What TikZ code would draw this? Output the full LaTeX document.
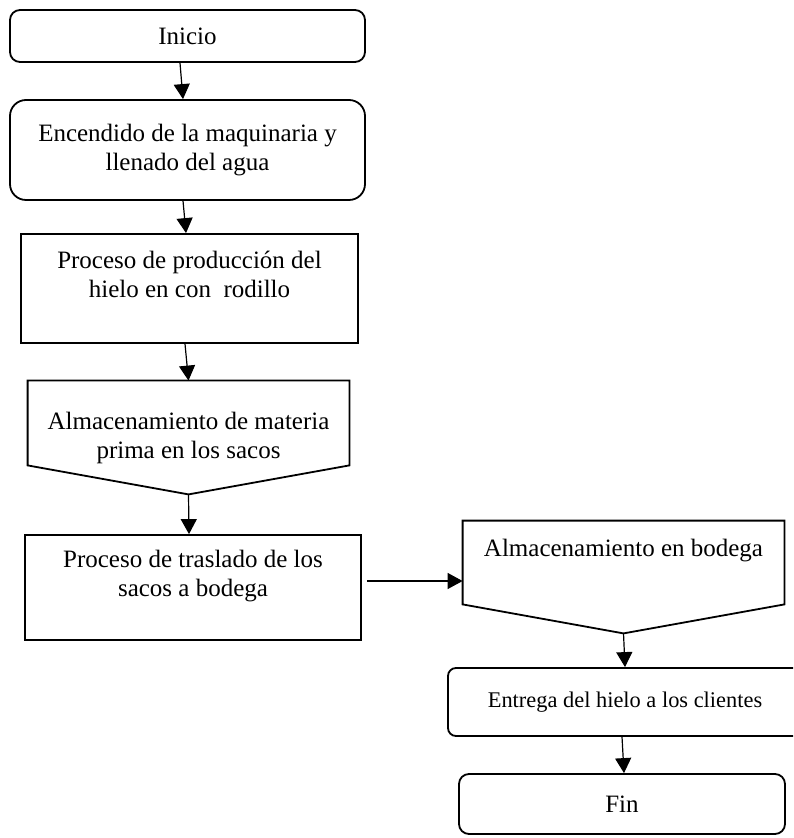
\documentclass[tikz,border=0pt]{standalone}
\usepackage{fontspec}
\setmainfont{Liberation Serif}
\usetikzlibrary{arrows.meta}

\begin{document}
\begin{tikzpicture}[x=0.5pt,y=-0.5pt,
    txt/.style={font=\fontsize{12.5}{14.5}\selectfont,align=center,inner sep=0pt},
    endbox/.style={txt,draw,line width=0.9pt,rounded corners=5pt},
    procbox/.style={txt,draw,line width=0.9pt},
    storebox/.style={txt},
    storeline/.style={line width=0.9pt},
    flow/.style={-{Triangle[length=7.5pt,width=8pt]},line width=0.6pt}]
                \useasboundingbox (0,0) rectangle (793,838);
                \clip (0,0) rectangle (793,838);
                \node[endbox,minimum width=177.5pt,minimum height=26pt] (ini) at (187.5,36) {Inicio};
                \node[endbox,rounded corners=8pt,minimum width=177.5pt,minimum height=50pt] (enc) at (187.5,150) {Encendido de la maquinaria y\\llenado del agua};
                \node[procbox,minimum width=168.5pt,minimum height=54.5pt] (prod) at (189.5,288.5) {Proceso de producción del\\hielo en con~ rodillo\\~};
                \node[storebox,minimum width=160.5pt,minimum height=56.5pt] (alm1) at (188.5,437.5) {Almacenamiento de materia\\prima en los sacos};
                \node[procbox,minimum width=168pt,minimum height=52.5pt] (tras) at (193,587.5) {Proceso de traslado de los\\sacos a bodega\\~};
                \node[storebox,minimum width=160.5pt,minimum height=56pt] (alm2) at (623.5,577) {Almacenamiento en bodega\\~\\~};
                \node[endbox,rounded corners=4pt,font=\fontsize{11.2}{12.8}\selectfont,minimum width=177pt,minimum height=34pt] (ent) at (625,702) {Entrega del hielo a los clientes};
                \node[endbox,minimum width=163pt,minimum height=30pt] (fin) at (622,804) {Fin};
                \draw[storeline] (alm1.north west) -- (alm1.north east) -- ([yshift=14.5pt]alm1.south east) -- (alm1.south) -- ([yshift=14.5pt]alm1.south west) -- cycle;
                \draw[storeline] (alm2.north west) -- (alm2.north east) -- ([yshift=14.5pt]alm2.south east) -- (alm2.south) -- ([yshift=14.5pt]alm2.south west) -- cycle;
                \draw[flow] ([xshift=-3.75pt]ini.south) -- ([xshift=-2.25pt]enc.north);
                \draw[flow] ([xshift=-2.25pt]enc.south) -- ([xshift=-1.75pt]prod.north);
                \draw[flow] ([xshift=-2.25pt]prod.south) -- (alm1.north);
                \draw[flow] (alm1.south) -- ([xshift=-2pt]tras.north);
                \draw[flow] ([xshift=2.5pt,yshift=3.25pt]tras.east) -- ([yshift=-2pt]alm2.west);
                \draw[flow] (alm2.south) -- (ent.north);
                \draw[flow] ([xshift=-1.5pt]ent.south) -- ([xshift=1pt]fin.north);
            \end{tikzpicture}
\end{document}
